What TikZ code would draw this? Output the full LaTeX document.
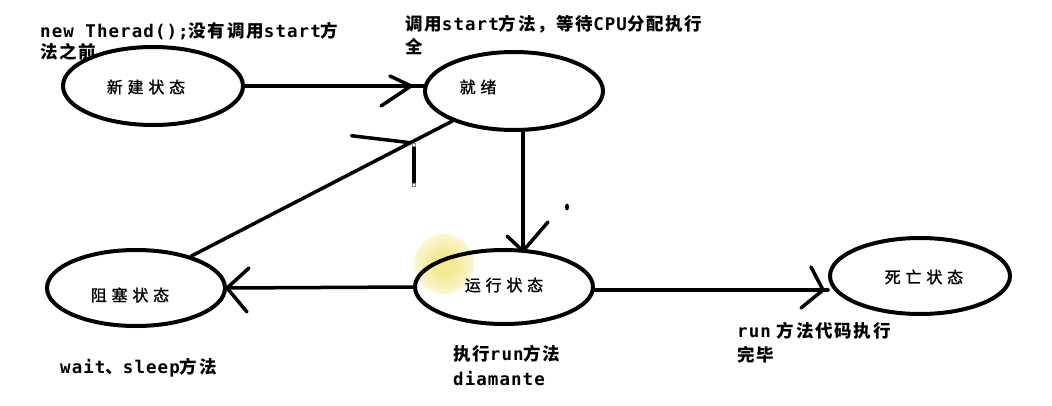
\documentclass[tikz,border=0pt]{standalone}
\usepackage{fontspec}
\usetikzlibrary{shapes.geometric,calc}
\newfontfamily\cjk{Noto Sans CJK SC}[LetterSpace=10]
\newfontfamily\cjklab{Noto Sans CJK SC}[LetterSpace=30,FakeBold=1.2]
\newfontfamily\mono{DejaVu Sans Mono}[LetterSpace=6]
\newcommand\zh[1]{{\cjk\bfseries #1}}
\newcommand\en[1]{{\mono\bfseries #1}}
\definecolor{hlc}{RGB}{243,234,150}
\pgfdeclareradialshading{hl}{\pgfpoint{0bp}{0bp}}{color(0bp)=(hlc); color(10bp)=(hlc); color(35bp)=(white); color(50bp)=(white)}
\begin{document}
\begin{tikzpicture}[x=1pt,y=-1pt,
  state/.style={draw, ellipse, line width=4pt, inner sep=0pt},
  lab/.style={font=\cjklab\fontsize{16}{19}\selectfont, inner sep=0pt},
  note/.style={anchor=base west, inner sep=0pt, font=\fontsize{17.5}{21}\selectfont},
  conn/.style={line width=3.5pt, line cap=round},
  arm/.style={line width=3.5pt, line cap=round},
  handle/.style={draw=gray, fill=white, line width=0.5pt}]
\useasboundingbox[fill=white] (0,0) rectangle (1052,405);

% highlight
\shade[shading=hl] (444,264) circle (30pt);

% states
\node[state, minimum width=180pt, minimum height=78pt] (new)   at (153,86)  {};
\node[state, minimum width=178pt, minimum height=78pt] (ready) at (514,91)  {};
\node[state, minimum width=178pt, minimum height=76pt] (block) at (136,288) {};
\node[state, minimum width=178pt, minimum height=74pt] (run)   at (504,287) {};
\node[state, minimum width=180pt, minimum height=76pt] (dead)  at (920,276) {};

\node[lab] (newl)   at (146,87)  {新建状态};
\node[lab] (readyl) at (478,87)  {就绪};
\node[lab] (blockl) at (130,295) {阻塞状态};
\node[lab] (runl)   at (504,285) {运行状态};
\node[lab] (deadl)  at (924,277) {死亡状态};

% new -> ready
\coordinate (e1) at (new.east -| ready.west);
\draw[conn] (new.east) -- (e1);
\coordinate (t1) at ($(e1)+(-12,0)$);
\draw[arm] (t1) -- ++(-21,-10);
\draw[arm] (t1) -- ++(-30,20);

% ready -> run
\coordinate (s2) at ([xshift=9pt]ready.south);
\coordinate (t2) at ($(run.north)+(19,3)$);
\draw[conn] (s2) -- (t2);
\draw[arm] (t2) -- ++(-16,-15);
\draw[arm] (t2) -- ++(25,-29);

% block -> ready
\draw[conn] (block.30) -- (ready.206);
\coordinate (t3) at ($(block.30)!0.84!(ready.206)$);
\draw[arm] (t3) -- ++(-59,-7);
\draw[arm] (414,147) -- (414,182);
\draw[handle] (412.5,143.5) rectangle (415.5,146.5);
\draw[handle] (412.5,183.5) rectangle (415.5,186.5);

% run -> block
\draw[conn] (run.west) -- (block.east);
\draw[arm] (block.east) -- ++(22,-20);
\draw[arm] (block.east) -- ++(20,24);

% run -> dead
\coordinate (e5) at ($(run.east -| dead.west)+(0,3)$);
\draw[conn] ($(run.east)+(0,3)$) -- (e5);
\coordinate (t5) at ($(e5)+(-5,0)$);
\draw[arm] (t5) -- ++(-12,-23);
\draw[arm] (t5) -- ++(-22,18);

% stray dot
\fill (567,207) ellipse (2pt and 3.5pt);

% notes
\node[note] (n1a) at (40,37)  {\en{new Therad();}\zh{没有调用}\en{start}\zh{方}};
\node[note] (n1b) at (40,58)  {\zh{法之前}};
\node[note] (n2a) at (405,30) {\zh{调用}\en{start}\zh{方法，等待}\en{CPU}\zh{分配执行}};
\node[note] (n2b) at (405,53) {\zh{全}};
\node[note] (n3)  at (60,373) {\en{wait}\zh{、}\en{sleep}\zh{方法}};
\node[note] (n4a) at (453,360) {\zh{执行}\en{run}\zh{方法}};
\node[note] (n4b) at (453,385) {\en{diamante}};
\node[note] (n5a) at (737,337) {\en{run}\hspace{6pt}\zh{方法代码执行}};
\node[note] (n5b) at (737,361) {\zh{完毕}};
\end{tikzpicture}
\end{document}
